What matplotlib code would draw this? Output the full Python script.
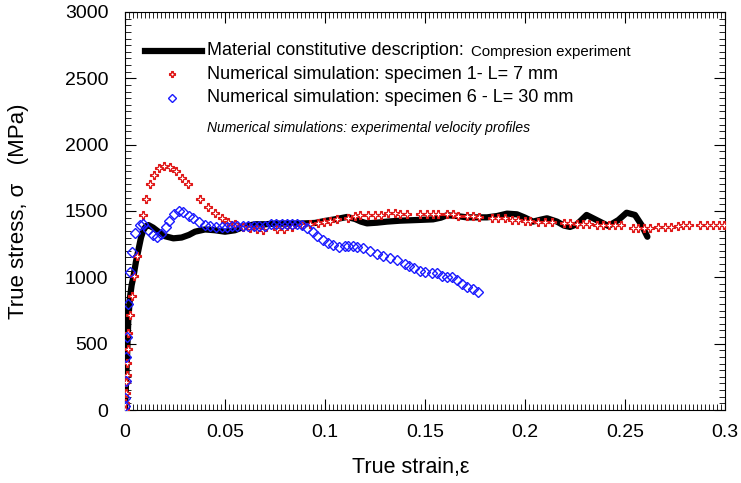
import numpy as np
import matplotlib
matplotlib.use('Agg')
import matplotlib.pyplot as plt
from matplotlib.ticker import MultipleLocator, FuncFormatter

plt.rcParams['font.family'] = ['Liberation Sans', 'DejaVu Sans']

# Curva costitutiva (prova di compressione)
black_strain = [0, 0.0005, 0.001, 0.0017, 0.0025, 0.0033, 0.0042, 0.0055, 0.0067, 0.008,
                0.0092, 0.0105, 0.0117, 0.014, 0.0167, 0.02, 0.0242, 0.0283, 0.032, 0.035,
                0.04, 0.045, 0.05, 0.055, 0.06, 0.065, 0.07, 0.075, 0.08, 0.0875,
                0.095, 0.1, 0.106, 0.111, 0.115, 0.118, 0.121, 0.126, 0.131, 0.1375,
                0.146, 0.154, 0.158, 0.161, 0.166, 0.171, 0.181, 0.186, 0.191, 0.196,
                0.2, 0.204, 0.208, 0.211, 0.216, 0.2195, 0.2225, 0.226, 0.2308, 0.2375,
                0.2417, 0.2467, 0.2508, 0.255, 0.2583, 0.2612]
black_stress = [0, 200, 400, 700, 850, 940, 1005, 1120, 1206, 1300,
                1356, 1385, 1394, 1375, 1344, 1310, 1294, 1300, 1320, 1344,
                1361, 1355, 1344, 1355, 1385, 1400, 1400, 1405, 1405, 1405,
                1410, 1425, 1440, 1455, 1440, 1420, 1407, 1412, 1420, 1427,
                1432, 1437, 1450, 1468, 1462, 1452, 1452, 1462, 1480, 1475,
                1450, 1420, 1435, 1445, 1420, 1390, 1380, 1400, 1470, 1419,
                1387, 1432, 1487, 1470, 1394, 1306]

# Simulazione provino 1 (L = 7 mm)
red_strain = [0, 0, 0.0003, 0.0007, 0.0008, 0.0008, 0.0013, 0.0017, 0.0025, 0.0033,
              0.0047, 0.0058, 0.0088, 0.0105, 0.0125, 0.0147, 0.0172, 0.0197, 0.0225, 0.0255,
              0.0283, 0.0313, 0.0375, 0.0413, 0.045, 0.0483, 0.0517, 0.055, 0.0592, 0.0625,
              0.0658, 0.0692, 0.0758, 0.0797, 0.0833, 0.0883, 0.0925, 0.0967, 0.0995, 0.1025,
              0.1058, 0.1117, 0.115, 0.1175, 0.1215, 0.125, 0.128, 0.1317, 0.135, 0.1375,
              0.141, 0.1475, 0.151, 0.1542, 0.1567, 0.1608, 0.164, 0.1667, 0.1708, 0.174,
              0.177, 0.1833, 0.1867, 0.19, 0.1933, 0.1967, 0.2, 0.2025, 0.2067, 0.21,
              0.2133, 0.2195, 0.2225, 0.226, 0.229, 0.232, 0.2358, 0.239, 0.242, 0.245,
              0.248, 0.2538, 0.2567, 0.2595, 0.2625, 0.2667, 0.27, 0.273, 0.2767, 0.2792,
              0.282, 0.2875, 0.2908, 0.294, 0.297, 0.2995]
red_stress = [0, 50, 128, 208, 264, 352, 457, 583, 716, 859,
              1012, 1160, 1470, 1588, 1700, 1769, 1821, 1841, 1829, 1801,
              1751, 1700, 1588, 1527, 1487, 1445, 1414, 1399, 1381, 1374,
              1364, 1356, 1364, 1364, 1381, 1394, 1402, 1412, 1419, 1427,
              1437, 1450, 1462, 1472, 1472, 1472, 1472, 1482, 1482, 1475,
              1475, 1475, 1475, 1475, 1475, 1477, 1477, 1462, 1465, 1465,
              1457, 1445, 1445, 1445, 1432, 1432, 1424, 1424, 1414, 1414,
              1414, 1407, 1407, 1402, 1402, 1402, 1394, 1394, 1394, 1394,
              1394, 1374, 1374, 1374, 1374, 1376, 1376, 1380, 1386, 1394,
              1394, 1394, 1394, 1394, 1394, 1394]

# Simulazione provino 6 (L = 30 mm)
blue_strain = [0, 0, 0.0003, 0.0005, 0.001, 0.0017, 0.0025, 0.0033, 0.005, 0.0075,
               0.0092, 0.0117, 0.0138, 0.0158, 0.018, 0.0203, 0.0222, 0.0245, 0.0272, 0.0292,
               0.0322, 0.0342, 0.037, 0.04, 0.0425, 0.0453, 0.0483, 0.0508, 0.0533, 0.0558,
               0.0588, 0.0617, 0.0645, 0.067, 0.07, 0.0728, 0.0755, 0.0783, 0.0808, 0.0833,
               0.0858, 0.0883, 0.0912, 0.0938, 0.0962, 0.0988, 0.1017, 0.1042, 0.1072, 0.11,
               0.1117, 0.1138, 0.1158, 0.1192, 0.1225, 0.1258, 0.1292, 0.1325, 0.1358, 0.14,
               0.1422, 0.1445, 0.1475, 0.15, 0.1533, 0.1558, 0.1583, 0.1608, 0.1633, 0.1658,
               0.1683, 0.1712, 0.1738, 0.1767]
blue_stress = [30, 92, 220, 397, 548, 799, 1042, 1193, 1331, 1394,
               1399, 1356, 1319, 1301, 1326, 1381, 1427, 1477, 1502, 1495,
               1465, 1445, 1417, 1394, 1387, 1381, 1381, 1381, 1385, 1385,
               1385, 1387, 1387, 1387, 1387, 1402, 1402, 1402, 1402, 1402,
               1402, 1394, 1369, 1344, 1311, 1281, 1256, 1243, 1231, 1236,
               1236, 1236, 1231, 1218, 1201, 1176, 1160, 1143, 1130, 1100,
               1085, 1068, 1050, 1038, 1030, 1030, 1012, 1005, 1000, 980,
               947, 925, 910, 887]

RED = '#e01818'
BLUE = '#1a1aff'


def red_plus(x, y, size, **kw):
    # croce rossa piena con una piccola croce bianca dentro
    ax.plot(x, y, ls='none', marker='P', ms=size, mfc=RED, mec=RED, mew=0.8, **kw)
    ax.plot(x, y, ls='none', marker='+', ms=size * 0.42, mec='white', mew=0.8, **kw)


fig = plt.figure(figsize=(7.41, 4.83), dpi=100)
ax = fig.add_axes([0.1687, 0.1511, 0.8097, 0.8241])

ax.plot(black_strain, black_stress, color='black', lw=4.5, solid_capstyle='round', zorder=2)
red_plus(red_strain, red_stress, 6.0, zorder=3)
ax.plot(blue_strain, blue_stress, ls='none', marker='D', ms=4.8, mfc='none', mec=BLUE,
        mew=1.0, zorder=4)

ax.set_xlim(0, 0.3)
ax.set_ylim(0, 3000)
ax.xaxis.set_major_locator(MultipleLocator(0.05))
ax.xaxis.set_minor_locator(MultipleLocator(0.002))
ax.yaxis.set_major_locator(MultipleLocator(500))
ax.yaxis.set_minor_locator(MultipleLocator(50))
ax.xaxis.set_major_formatter(FuncFormatter(lambda v, p: '%g' % round(v, 3)))
ax.tick_params(which='both', direction='in', top=True, right=True, labelsize=14)
ax.tick_params(axis='y', pad=12)
ax.tick_params(axis='x', pad=10)
ax.tick_params(which='major', length=8, width=0.8)
ax.tick_params(which='minor', length=4, width=0.6)

ax.set_xlabel('True strain,ε', fontsize=15.5)
ax.set_ylabel('True stress, σ   (MPa)', fontsize=16)
ax.xaxis.set_label_coords(0.477, -0.118)
ax.yaxis.set_label_coords(-0.16, 0.5)

# Legenda disegnata a mano (testo con due dimensioni)
tr = ax.transAxes
ax.plot([0.034, 0.128], [0.902, 0.902], color='black', lw=4.5, transform=tr, clip_on=False)
ax.text(0.137, 0.902, 'Material constitutive description:', transform=tr, fontsize=13,
        va='center', ha='left')
ax.text(0.576, 0.899, 'Compresion experiment', transform=tr, fontsize=10.8,
        va='center', ha='left')
red_plus([0.078], [0.844], 4.6, transform=tr)
ax.text(0.137, 0.844, 'Numerical simulation: specimen 1- L= 7 mm', transform=tr,
        fontsize=13, va='center', ha='left')
ax.plot([0.078], [0.784], ls='none', marker='D', ms=3.8, mfc='none', mec=BLUE,
        mew=1.0, transform=tr)
ax.text(0.137, 0.784, 'Numerical simulation: specimen 6 - L= 30 mm', transform=tr,
        fontsize=13, va='center', ha='left')
ax.text(0.137, 0.708, 'Numerical simulations: experimental velocity profiles',
        transform=tr, fontsize=10, style='italic', va='center', ha='left')

plt.savefig('out.png', dpi=100)
